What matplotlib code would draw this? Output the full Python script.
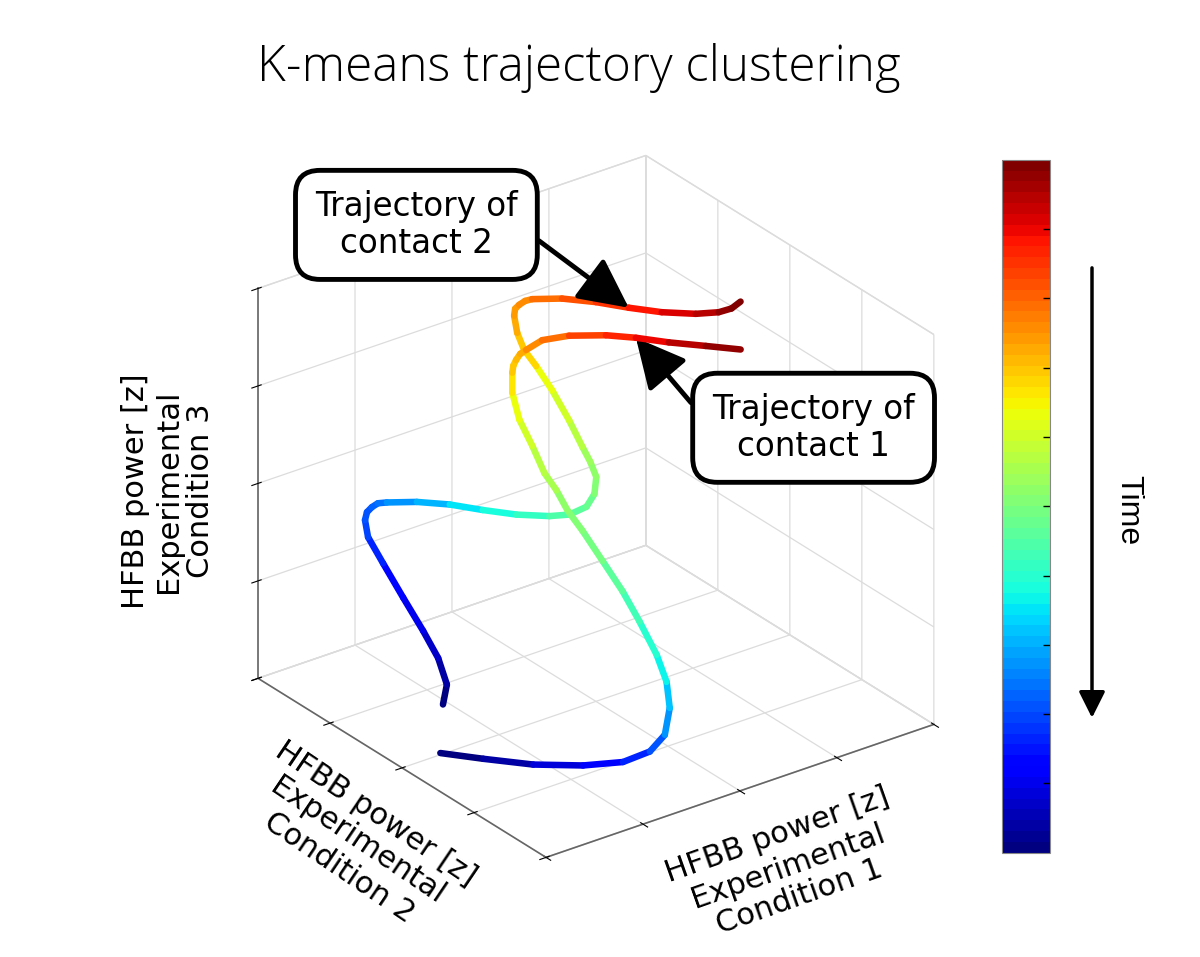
import numpy as np
import matplotlib
import matplotlib.pyplot as plt
from matplotlib.patches import FancyArrowPatch
from mpl_toolkits.mplot3d import proj3d
from mpl_toolkits.mplot3d.art3d import Line3DCollection

# trajectory of contact 2 (upper end): condition 1, condition 2, condition 3, time
c2_cond1 = [0.457, 0.536, 0.548, 0.519, 0.474, 0.431, 0.400, 0.425, 0.459, 0.505,
            0.555, 0.617, 0.818, 1.031, 1.236, 1.450, 1.665, 1.802, 1.936, 2.023,
            2.080, 2.080, 2.067, 2.049, 2.015, 1.973, 1.935, 1.934, 1.959, 1.984,
            2.020, 2.071, 2.122, 2.323, 2.540, 2.744, 2.952, 3.174, 3.331, 3.427,
            3.505]
c2_cond2 = [2.047, 2.099, 2.236, 2.406, 2.623, 2.844, 3.011, 3.087, 3.105, 3.099,
            3.083, 3.042, 2.896, 2.726, 2.544, 2.361, 2.194, 2.101, 2.045, 2.052,
            2.103, 2.186, 2.279, 2.437, 2.628, 2.793, 2.910, 3.005, 3.081, 3.101,
            3.095, 3.080, 3.052, 2.907, 2.727, 2.546, 2.368, 2.195, 2.088, 2.038,
            2.018]
c2_cond3 = [0.473, 0.627, 0.831, 1.042, 1.299, 1.564, 1.767, 1.898, 1.960, 1.998,
            2.028, 2.034, 2.038, 2.017, 1.974, 1.938, 1.926, 1.938, 1.998, 2.097,
            2.228, 2.344, 2.461, 2.664, 2.898, 3.085, 3.210, 3.342, 3.474, 3.528,
            3.558, 3.588, 3.602, 3.606, 3.578, 3.534, 3.499, 3.486, 3.498, 3.527,
            3.580]
c2_time = [0.00, 0.02, 0.05, 0.08, 0.11, 0.15, 0.18, 0.20, 0.21, 0.22,
           0.235, 0.25, 0.29, 0.33, 0.37, 0.40, 0.43, 0.45, 0.47, 0.49,
           0.51, 0.53, 0.55, 0.58, 0.62, 0.66, 0.69, 0.71, 0.73, 0.74,
           0.75, 0.76, 0.77, 0.80, 0.84, 0.87, 0.90, 0.94, 0.96, 0.98,
           1.00]

# trajectory of contact 1 (lower end)
c1_cond1 = [0.311, 0.582, 0.899, 1.229, 1.504, 1.711, 1.855, 1.959, 2.007, 2.012,
            1.986, 1.953, 1.900, 1.846, 1.800, 1.779, 1.745, 1.736, 1.719, 1.743,
            1.796, 1.821, 1.856, 1.899, 1.949, 2.081, 2.272, 2.519, 2.712, 2.919,
            3.156, 3.379]
c1_cond2 = [1.887, 1.655, 1.389, 1.141, 0.957, 0.862, 0.848, 0.920, 1.028, 1.173,
            1.376, 1.567, 1.773, 1.980, 2.126, 2.251, 2.372, 2.528, 2.685, 2.816,
            2.887, 2.907, 2.914, 2.915, 2.900, 2.856, 2.740, 2.560, 2.404, 2.226,
            2.031, 1.847]
c1_cond3 = [0.098, 0.053, 0.008, 0.000, 0.026, 0.107, 0.236, 0.443, 0.644, 0.854,
            1.111, 1.345, 1.579, 1.813, 1.970, 2.126, 2.258, 2.468, 2.671, 2.880,
            3.034, 3.088, 3.134, 3.180, 3.210, 3.285, 3.319, 3.322, 3.302, 3.266,
            3.238, 3.210]
c1_time = [0.00, 0.03, 0.06, 0.10, 0.14, 0.19, 0.24, 0.30, 0.35, 0.38,
           0.41, 0.44, 0.47, 0.50, 0.52, 0.54, 0.56, 0.59, 0.62, 0.65,
           0.68, 0.695, 0.71, 0.725, 0.74, 0.77, 0.81, 0.85, 0.88, 0.92,
           0.96, 1.00]

ticks = [0, 1, 2, 3, 4]
cbar_ticks = [0.1, 0.2, 0.3, 0.4, 0.5, 0.6, 0.7, 0.8, 0.9]

label_font = ['DejaVu Sans']
plt.rcParams['grid.color'] = '#dcdcdc'
plt.rcParams['grid.linewidth'] = 0.9

cmap = plt.get_cmap('jet', 64)
norm = matplotlib.colors.Normalize(0, 1)

fig = plt.figure(figsize=(12, 9.57), dpi=100)
ax = fig.add_axes([0.158, 0.06, 0.66, 0.80], projection='3d', proj_type='ortho')
ax.view_init(elev=27.5, azim=-126.6)
ax.set_box_aspect((1, 1, 0.91), zoom=1.03)
ax.set_xlim(0, 4)
ax.set_ylim(0, 4)
ax.set_zlim(0, 4)
ax.set_xticks(ticks)
ax.set_yticks(ticks)
ax.set_zticks(ticks)
ax.set_xticklabels([])
ax.set_yticklabels([])
ax.set_zticklabels([])
for axis in (ax.xaxis, ax.yaxis, ax.zaxis):
    axis.set_pane_color((1, 1, 1, 1))
    axis._axinfo['grid']['color'] = '#dcdcdc'
    axis.pane.set_edgecolor('#dcdcdc')
    axis.line.set_color('#666666')
    axis.line.set_linewidth(1.2)

def add_traj(c1, c2, c3, t):
    pts = np.column_stack([c1, c2, c3])
    segs = np.stack([pts[:-1], pts[1:]], axis=1)
    tt = np.asarray(t)
    lc = Line3DCollection(segs, cmap=cmap, norm=norm, linewidths=4.7,
                          capstyle='round', joinstyle='round')
    lc.set_array((tt[:-1] + tt[1:]) / 2)
    ax.add_collection3d(lc)
    return lc

add_traj(c2_cond1, c2_cond2, c2_cond3, c2_time)
lc = add_traj(c1_cond1, c1_cond2, c1_cond3, c1_time)

fig.text(0.482, 0.929, 'K-means trajectory clustering', ha='center', va='center',
         fontsize=35.5, family=['Open Sans', 'DejaVu Sans'], fontweight='light')

lab = 'HFBB power [z]\nExperimental\nCondition '
lab_kw = dict(ha='center', va='center', multialignment='center', fontsize=22,
              family=label_font, linespacing=1.15, rotation_mode='anchor')
fig.text(0.140, 0.487, lab + '3', rotation=90, **lab_kw)
fig.text(0.298, 0.121, lab + '2', rotation=-34, **lab_kw)
fig.text(0.657, 0.095, lab + '1', rotation=19.5, **lab_kw)

# annotations pointing at points on the curves
fig.canvas.draw()
M = ax.get_proj()
box = dict(boxstyle='round,pad=0.6,rounding_size=0.75', fc='white', ec='black', lw=3.5)

def arrow(side):
    return dict(arrowstyle='-|>,head_length=1.3,head_width=0.65', color='black', lw=3.5,
                shrinkA=0, shrinkB=0, relpos=(side, 0.5))

xa, ya, _ = proj3d.proj_transform(c2_cond1[35], c2_cond2[35], c2_cond3[35], M)
ax.annotate('Trajectory of\ncontact 2', xy=(xa, ya), xycoords='data',
            xytext=(0.347, 0.765), textcoords='figure fraction', ha='center', va='center',
            fontsize=23.5, family=label_font, linespacing=1.15, bbox=box,
            arrowprops=arrow(1.0))
xb, yb, _ = proj3d.proj_transform(c1_cond1[28], c1_cond2[28], c1_cond3[28], M)
ax.annotate('Trajectory of\ncontact 1', xy=(xb, yb), xycoords='data',
            xytext=(0.678, 0.553), textcoords='figure fraction', ha='center', va='center',
            fontsize=23.5, family=label_font, linespacing=1.15, bbox=box,
            arrowprops=arrow(0.0))

# colorbar
cax = fig.add_axes([0.835, 0.109, 0.040, 0.724])
cb = fig.colorbar(lc, cax=cax, ticks=cbar_ticks)
cb.outline.set_edgecolor('#888888')
cax.tick_params(direction='in', length=5, width=1, labelright=False, right=True)
fig.text(0.94, 0.467, 'Time', rotation=-90, ha='center', va='center', fontsize=23,
         family=['Liberation Sans', 'DejaVu Sans'])
fig.add_artist(FancyArrowPatch((0.910, 0.723), (0.910, 0.247), transform=fig.transFigure,
                               arrowstyle='-|>,head_length=8,head_width=4', color='black',
                               lw=2.5, mutation_scale=2))

fig.savefig('out.png', dpi=100)
